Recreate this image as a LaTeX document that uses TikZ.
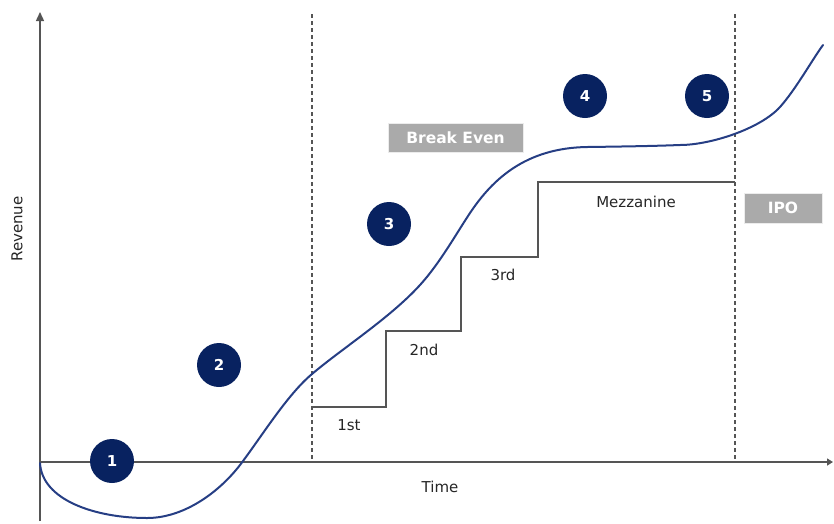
\documentclass[tikz,border=0pt]{standalone}
\usepackage{fontspec}
\setmainfont{DejaVu Sans}
\usetikzlibrary{arrows.meta}
\definecolor{navy}{RGB}{8,34,96}
\definecolor{curveblue}{RGB}{38,62,132}
\definecolor{axisgray}{RGB}{85,85,85}
\definecolor{boxgray}{RGB}{170,170,170}
\tikzset{
  axisline/.style={axisgray, line width=1.4pt},
  marker/.style={dashed, axisgray, line width=1.1pt, dash pattern=on 4pt off 3pt},
  stepline/.style={axisgray, line width=1.4pt},
  revcurve/.style={curveblue, line width=2pt, line cap=round},
  stagedot/.style={circle, fill=navy, minimum size=44pt, inner sep=0pt,
    text=white, font=\fontsize{15}{15}\selectfont\bfseries},
  tagbox/.style={fill=boxgray, draw=white!85!gray, line width=0.6pt, text=white,
    font=\fontsize{15.5}{15.5}\selectfont\bfseries, inner sep=0pt},
  lbl/.style={text=black!85, font=\fontsize{15}{15}\selectfont},
}
\begin{document}
\begin{tikzpicture}[x=1pt, y=-1pt]
  \useasboundingbox (0,0) rectangle (834,523);

  % axes
  \coordinate (origin) at (40,462);
  \coordinate (ytop) at (40,12);
  \coordinate (ybot) at (40,521);
  \coordinate (xend) at (833,462);
  \draw[axisline] (ybot) -- (origin);
  \draw[axisline, -{Triangle[length=9pt, width=8pt]}] (origin) -- (ytop);
  \draw[axisline, -{Triangle[length=6pt, width=7pt]}] (origin) -- (xend);

  % phase markers
  \coordinate (m1t) at (312,14);
  \coordinate (m1b) at (312,462);
  \coordinate (m2t) at (735,14);
  \coordinate (m2b) at (735,462);
  \draw[marker] (m1t) -- (m1b);
  \draw[marker] (m2t) -- (m2b);

  % financing rounds
  \draw[stepline] (312,407) -- (386,407) -- (386,331) -- (461,331)
     -- (461,257) -- (538,257) -- (538,182) -- (735,182);
  \node[lbl] (r1) at (349,425) {1st};
  \node[lbl] (r2) at (424,350) {2nd};
  \node[lbl] (r3) at (503,275) {3rd};
  \node[lbl] (r4) at (636,202) {Mezzanine};

  % revenue curve: dip, growth, plateau, second rise
  \draw[revcurve] (40,463)
    .. controls (42,500) and (95,518) .. (147,518)
    .. controls (185,518) and (220,491) .. (240,465)
    .. controls (262,436) and (287,395) .. (312,374)
    .. controls (342,348.5) and (390,318) .. (420,285)
    .. controls (440,263) and (456,234) .. (470,213)
    .. controls (492,180) and (525,148) .. (587,147)
    .. controls (625,146.5) and (655,146) .. (680,145)
    .. controls (710,145) and (760,129) .. (780,107)
    .. controls (796,89) and (812,60) .. (823,45);

  % stages
  \node[stagedot] (s1) at (112,461) {1};
  \node[stagedot] (s2) at (219,365) {2};
  \node[stagedot] (s3) at (389,224) {3};
  \node[stagedot] (s4) at (585,96) {4};
  \node[stagedot] (s5) at (707,96) {5};

  % milestone tags
  \node[tagbox, minimum width=135pt, minimum height=29pt] (be) at (455.5,137.5) {Break Even};
  \node[tagbox, minimum width=78pt, minimum height=30pt] (ipo) at (783,208) {IPO};

  % axis titles
  \node[lbl] (tx) at (440,487) {Time};
  \node[lbl, rotate=90] (ty) at (17,229) {Revenue};
\end{tikzpicture}
\end{document}
